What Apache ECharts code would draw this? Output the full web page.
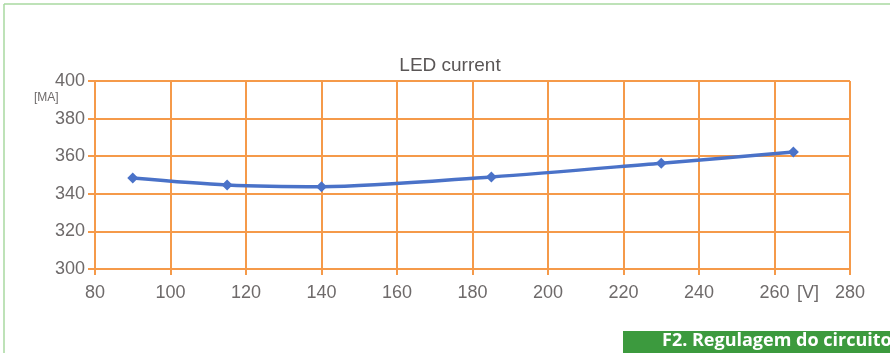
<!DOCTYPE html>
<html>
<head>
<meta charset="utf-8">
<script src="https://cdn.jsdelivr.net/npm/echarts@6/dist/echarts.min.js"></script>
<style>
  html, body { margin: 0; padding: 0; background: #fff; }
  #chart { width: 890px; height: 353px; }
</style>
</head>
<body>
<div id="chart"></div>
<script>
// LED current vs supply voltage
const voltage = [90, 115, 140, 185, 230, 265]
const current = [348.4, 344.7, 343.8, 349, 356.3, 362.2]
const xTicks = [80, 100, 120, 140, 160, 180, 200, 220, 240, 260, 280]
const yTicks = [300, 320, 340, 360, 380, 400]

const orange = '#f59a4a'
const gray = '#6e6a6a'

const chart = echarts.init(document.getElementById('chart'))
chart.setOption({
  animation: false,
  title: {
    text: 'LED current',
    left: 445,
    top: 51,
    textAlign: 'center',
    textStyle: { fontFamily: 'Liberation Sans', fontSize: 19, fontWeight: 'normal', color: '#5a5656' }
  },
  grid: { left: 95, right: 40, top: 81, bottom: 84, outerBoundsMode: 'none', containLabel: false },
  xAxis: {
    type: 'value',
    min: xTicks[0],
    max: xTicks[xTicks.length - 1],
    interval: 20,
    name: '[V]',
    nameLocation: 'end',
    nameGap: -53,
    nameMoveOverlap: false,
    nameTextStyle: { fontFamily: 'Liberation Sans', fontSize: 18, color: gray, verticalAlign: 'top', padding: [15, 0, 0, 0] },
    axisLine: { lineStyle: { color: orange, width: 2 } },
    axisTick: { show: true, length: 6, lineStyle: { color: orange, width: 2 } },
    axisLabel: { fontFamily: 'Liberation Sans', fontSize: 18, color: gray, margin: 15 },
    splitLine: { lineStyle: { color: orange, width: 2 } }
  },
  yAxis: {
    type: 'value',
    min: yTicks[0],
    max: yTicks[yTicks.length - 1],
    interval: 20,
    axisLine: { show: true, lineStyle: { color: orange, width: 2 } },
    axisTick: { show: true, length: 7, lineStyle: { color: orange, width: 2 } },
    axisLabel: { fontFamily: 'Liberation Sans', fontSize: 18, color: gray, margin: 10 },
    splitLine: { lineStyle: { color: orange, width: 2 } }
  },
  graphic: [
    { type: 'line', shape: { x1: 4, y1: 4, x2: 890, y2: 4 }, style: { stroke: '#a8d8a0', lineWidth: 1.5 } },
    { type: 'line', shape: { x1: 4, y1: 4, x2: 4, y2: 353 }, style: { stroke: '#a8d8a0', lineWidth: 1.5 } },
    { type: 'text', left: 34, top: 92, style: { text: '[MA]', fontFamily: 'Liberation Sans', fontSize: 12, fill: gray } },
    { type: 'rect', shape: { x: 623, y: 331, width: 267, height: 22 }, style: { fill: '#3c9a3e' } },
    { type: 'text', left: 662, top: 332, style: { text: 'F2. Regulagem do circuito', fontFamily: 'Open Sans', fontSize: 18, fontWeight: 'bold', fill: '#fff' } }
  ],
  series: [{
    type: 'line',
    data: voltage.map((v, i) => [v, current[i]]),
    smooth: 0.3,
    symbol: 'diamond',
    symbolSize: 11,
    lineStyle: { color: '#4a72c8', width: 3.5 },
    itemStyle: { color: '#4a72c8' }
  }]
})
</script>
</body>
</html>
